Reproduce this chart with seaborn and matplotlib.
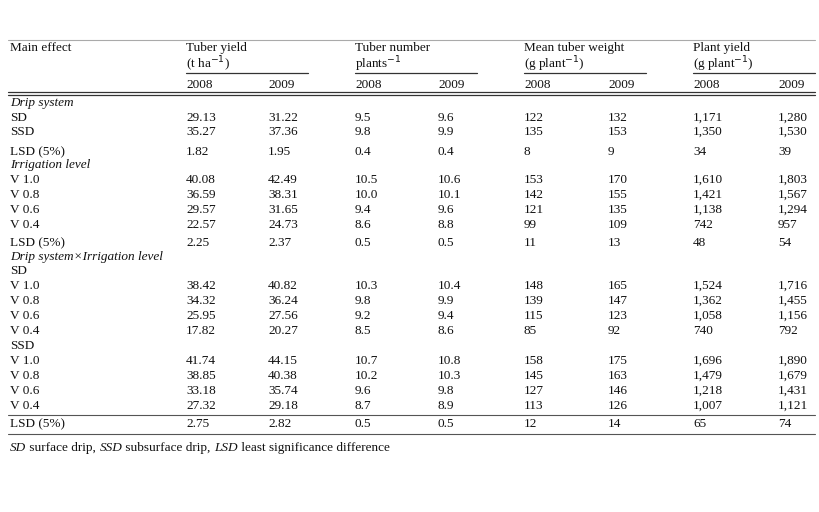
import matplotlib
matplotlib.use("Agg")
import matplotlib.pyplot as plt
import seaborn as sns

sns.set_theme(style="white")
plt.rcParams['font.family'] = ['Liberation Serif', 'DejaVu Serif']

groups = ["Tuber yield", "Tuber number", "Mean tuber weight", "Plant yield"]
units = ["(t ha$^{-1}$)", "plants$^{-1}$", "(g plant$^{-1}$)", "(g plant$^{-1}$)"]
years = ["2008", "2009"]

row_labels = ["Drip system", "SD", "SSD", "LSD (5%)", "Irrigation level", "V 1.0", "V 0.8", "V 0.6", "V 0.4",
              "LSD (5%)", "Drip system×Irrigation level", "SD", "V 1.0", "V 0.8", "V 0.6", "V 0.4",
              "SSD", "V 1.0", "V 0.8", "V 0.6", "V 0.4", "LSD (5%)"]
row_italic = [True, False, False, False, True, False, False, False, False, False, True,
              False, False, False, False, False, False, False, False, False, False, False]
row_values = [
    None,
    ["29.13", "31.22", "9.5", "9.6", "122", "132", "1,171", "1,280"],
    ["35.27", "37.36", "9.8", "9.9", "135", "153", "1,350", "1,530"],
    ["1.82", "1.95", "0.4", "0.4", "8", "9", "34", "39"],
    None,
    ["40.08", "42.49", "10.5", "10.6", "153", "170", "1,610", "1,803"],
    ["36.59", "38.31", "10.0", "10.1", "142", "155", "1,421", "1,567"],
    ["29.57", "31.65", "9.4", "9.6", "121", "135", "1,138", "1,294"],
    ["22.57", "24.73", "8.6", "8.8", "99", "109", "742", "957"],
    ["2.25", "2.37", "0.5", "0.5", "11", "13", "48", "54"],
    None,
    None,
    ["38.42", "40.82", "10.3", "10.4", "148", "165", "1,524", "1,716"],
    ["34.32", "36.24", "9.8", "9.9", "139", "147", "1,362", "1,455"],
    ["25.95", "27.56", "9.2", "9.4", "115", "123", "1,058", "1,156"],
    ["17.82", "20.27", "8.5", "8.6", "85", "92", "740", "792"],
    None,
    ["41.74", "44.15", "10.7", "10.8", "158", "175", "1,696", "1,890"],
    ["38.85", "40.38", "10.2", "10.3", "145", "163", "1,479", "1,679"],
    ["33.18", "35.74", "9.6", "9.8", "127", "146", "1,218", "1,431"],
    ["27.32", "29.18", "8.7", "8.9", "113", "126", "1,007", "1,121"],
    ["2.75", "2.82", "0.5", "0.5", "12", "14", "65", "74"],
]
footnote = [("SD", True), (" surface drip, ", False), ("SSD", True), (" subsurface drip, ", False),
            ("LSD", True), (" least significance difference", False)]

row_y = [103, 118, 132, 152, 165, 180, 195, 210, 225, 243, 257, 271, 286, 301, 316, 331,
         346, 361, 376, 391, 406, 424]
col_x = [186, 268, 355, 438, 524, 608, 693, 778]

fig = plt.figure(figsize=(8.2, 5.12), dpi=100)
ax = fig.add_axes([0, 0, 1, 1])
ax.set_xlim(0, 820)
ax.set_ylim(512, 0)
ax.axis("off")
fs = 9.5
tc = "#111111"

ax.text(10, 48, "Main effect", fontsize=fs, color=tc, va="center")
for i, (g, u) in enumerate(zip(groups, units)):
    x = col_x[2 * i]
    ax.text(x, 48, g, fontsize=fs, color=tc, va="center")
    ax.text(x, 64, u, fontsize=fs, color=tc, va="center")
    ax.plot([x, x + 122], [72.5, 72.5], color="#333333", lw=0.9)
    for j, yv in enumerate(years):
        ax.text(col_x[2 * i + j], 85, yv, fontsize=fs, color=tc, va="center")

ax.plot([8, 815], [40, 40], color="#aaaaaa", lw=0.8)
ax.plot([8, 815], [92, 92], color="#333333", lw=0.9)
ax.plot([8, 815], [94.5, 94.5], color="#333333", lw=0.9)
ax.plot([8, 815], [414.5, 414.5], color="#555555", lw=0.8)
ax.plot([8, 815], [433.5, 433.5], color="#555555", lw=0.8)

for lab, it, vals, y in zip(row_labels, row_italic, row_values, row_y):
    ax.text(10, y, lab, fontsize=fs, color=tc, va="center", style="italic" if it else "normal")
    if vals:
        for x, v in zip(col_x, vals):
            ax.text(x, y, v, fontsize=fs, color=tc, va="center")

# footnote with mixed styles
x = 10
r = fig.canvas.get_renderer()
for s, it in footnote:
    t = ax.text(x, 448, s, fontsize=fs, color=tc, va="center", style="italic" if it else "normal")
    bb = t.get_window_extent(renderer=r)
    x += bb.width
fig.savefig("out.png", dpi=100, facecolor="white")
